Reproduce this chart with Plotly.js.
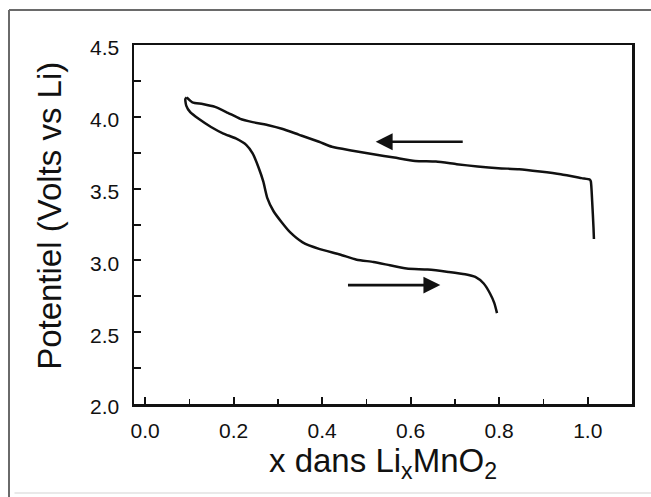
<!DOCTYPE html>
<html>
<head>
<meta charset="utf-8">
<script src="https://cdn.plot.ly/plotly-3.0.1.min.js"></script>
<style>
  html, body { margin: 0; padding: 0; background: #ffffff; }
  #chart { width: 651px; height: 497px; }
</style>
</head>
<body>
<div id="chart"></div>
<script>
// Charge branch (x decreasing from ~1.0 to ~0.1, upper curve)
var chargeX = [1.014, 1.013, 1.010, 1.007, 1.005, 0.986, 0.939, 0.892, 0.845, 0.798, 0.751, 0.704, 0.657, 0.610, 0.563, 0.516, 0.469, 0.422, 0.393, 0.347, 0.309, 0.281, 0.243, 0.215, 0.187, 0.158, 0.130, 0.107, 0.094];
var chargeY = [3.149, 3.229, 3.413, 3.550, 3.562, 3.573, 3.600, 3.619, 3.635, 3.642, 3.654, 3.670, 3.688, 3.693, 3.716, 3.739, 3.764, 3.791, 3.826, 3.876, 3.917, 3.940, 3.963, 3.986, 4.028, 4.069, 4.089, 4.101, 4.135];
// Discharge branch (x increasing from ~0.1 to ~0.8, lower curve)
var dischargeX = [0.094, 0.091, 0.093, 0.102, 0.121, 0.149, 0.177, 0.205, 0.229, 0.243, 0.257, 0.267, 0.276, 0.290, 0.309, 0.328, 0.356, 0.393, 0.440, 0.478, 0.516, 0.553, 0.591, 0.638, 0.685, 0.723, 0.746, 0.765, 0.779, 0.789, 0.795];
var dischargeY = [4.135, 4.124, 4.078, 4.032, 3.986, 3.929, 3.883, 3.849, 3.803, 3.745, 3.642, 3.550, 3.436, 3.344, 3.264, 3.195, 3.126, 3.080, 3.041, 3.005, 2.989, 2.966, 2.943, 2.936, 2.920, 2.904, 2.885, 2.839, 2.771, 2.702, 2.633];
// Direction arrows: [tailX, headX, y]
var chargeArrow = [0.721, 0.521, 3.826];
var dischargeArrow = [0.455, 0.667, 2.828];
// Tick labels
var xTickVals = [0.0, 0.2, 0.4, 0.6, 0.8, 1.0];
var xTickText = ['0.0', '0.2', '0.4', '0.6', '0.8', '1.0'];
var yTickVals = [2.0, 2.5, 3.0, 3.5, 4.0, 4.5];
var yTickText = ['2.0', '2.5', '3.0', '3.5', '4.0', '4.5'];
var xTitle = 'x dans Li<sub>x</sub>MnO<sub>2</sub>';
var yTitle = 'Potentiel (Volts vs Li)';

var ink = '#111111';
var fontFam = 'Liberation Sans, Arial, Helvetica, sans-serif';

var traces = [
  { x: chargeX, y: chargeY, type: 'scatter', mode: 'lines',
    line: { color: ink, width: 2.5, shape: 'spline', smoothing: 0.6 }, hoverinfo: 'skip', showlegend: false },
  { x: dischargeX, y: dischargeY, type: 'scatter', mode: 'lines',
    line: { color: ink, width: 2.5, shape: 'spline', smoothing: 0.6 }, hoverinfo: 'skip', showlegend: false }
];

function arrow(a) {
  return { x: a[1], y: a[2], ax: a[0], ay: a[2], xref: 'x', yref: 'y', axref: 'x', ayref: 'y',
    text: '', showarrow: true, arrowhead: 2, arrowsize: 1.3, arrowwidth: 2.6, arrowcolor: ink, standoff: 0 };
}

var layout = {
  width: 651, height: 497,
  margin: { l: 134, r: 19, t: 45, b: 93 },
  paper_bgcolor: '#ffffff', plot_bgcolor: '#ffffff',
  font: { family: fontFam, color: ink, size: 21 },
  showlegend: false,
  xaxis: {
    range: [-0.025, 1.10], showgrid: false, zeroline: false,
    showline: true, mirror: true, linecolor: ink, linewidth: 2.5,
    tickmode: 'array', tickvals: xTickVals, ticktext: xTickText,
    ticks: 'inside', ticklen: 7, tickwidth: 2, tickcolor: ink,
    minor: { dtick: 0.1, tick0: 0, ticks: 'inside', ticklen: 5, tickwidth: 1.5, tickcolor: ink, showgrid: false },
    ticklabelstandoff: 6,
    tickfont: { family: fontFam, size: 21, color: ink },
    title: { text: xTitle, font: { family: fontFam, size: 33, color: ink }, standoff: 8 }
  },
  yaxis: {
    range: [2.0, 4.5], showgrid: false, zeroline: false,
    showline: true, mirror: true, linecolor: ink, linewidth: 2.5,
    tickmode: 'array', tickvals: yTickVals, ticktext: yTickText,
    ticks: 'inside', ticklen: 7, tickwidth: 2, tickcolor: ink,
    minor: { dtick: 0.25, tick0: 0, ticks: 'inside', ticklen: 7, tickwidth: 2, tickcolor: ink, showgrid: false },
    ticklabelstandoff: 8,
    ticklabelshift: 3,
    tickfont: { family: fontFam, size: 21, color: ink },
    title: { text: '' }
  },
  annotations: [
    arrow(chargeArrow), arrow(dischargeArrow),
    { text: yTitle, xref: 'paper', yref: 'paper', x: -0.17, y: 0.525, xanchor: 'center', yanchor: 'middle',
      textangle: -90, showarrow: false, font: { family: fontFam, size: 33, color: ink } }
  ],
  shapes: [
    { type: 'line', xref: 'paper', yref: 'paper', x0: -0.251, x1: 1.04, y0: 1.0975, y1: 1.0975, line: { color: '#6a6a6a', width: 2 } },
    { type: 'line', xref: 'paper', yref: 'paper', x0: -0.251, x1: -0.251, y0: 1.0975, y1: -0.27, line: { color: '#6a6a6a', width: 2 } },
    { type: 'line', xref: 'paper', yref: 'paper', x0: -0.24, x1: 1.04, y0: -0.248, y1: -0.248, line: { color: '#e2e2e2', width: 1.5 } }
  ]
};

Plotly.newPlot('chart', traces, layout, { staticPlot: true, displayModeBar: false });
</script>
</body>
</html>
